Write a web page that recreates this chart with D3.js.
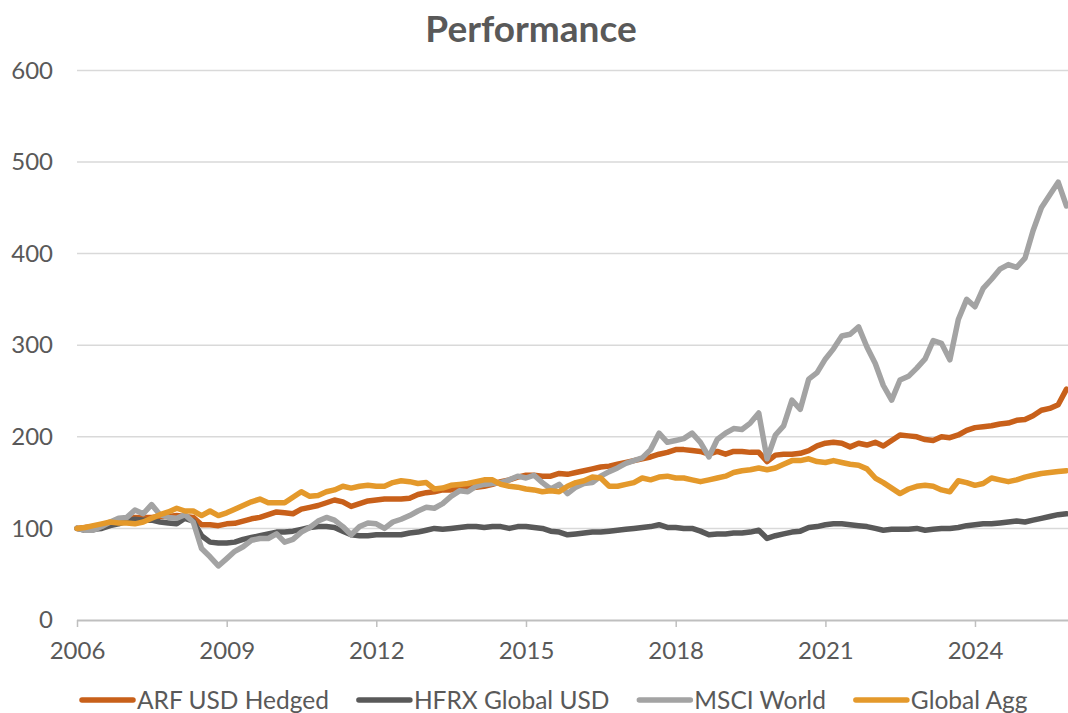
<!DOCTYPE html>
<html>
<head>
<meta charset="utf-8">
<script src="https://cdn.jsdelivr.net/npm/d3@7"></script>
<style>
  body { margin: 0; background: #ffffff; }
  svg { display: block; }
  text { font-family: Lato, "Open Sans", sans-serif; fill: #595959; }
</style>
</head>
<body>
<svg id="chart" width="1068" height="713"></svg>
<script>
// Growth of 100, bimonthly observations from Jan 2006 to Nov 2025
const seriesNames = ["ARF USD Hedged", "HFRX Global USD", "MSCI World", "Global Agg"];

const arfUsdHedged = [
  100, 101, 102, 104, 106, 108, 110, 112, 112, 112, 113, 113, 114, 113, 112, 104, 104, 103, 105, 105.5,
  108, 110.5, 112, 115, 118, 117, 116, 121, 123, 125, 128, 131, 129, 124, 127, 130, 131, 132, 132, 132,
  133, 137, 139, 140, 142, 142, 144, 144, 145, 146, 148, 151, 153, 156, 158, 158, 157, 157, 160, 159,
  161, 163, 165, 167, 168, 170, 172, 174, 176, 178, 181, 183, 186, 186, 185, 184, 181, 184, 181, 184,
  184, 183, 183, 173, 180, 181, 181, 182, 185, 190, 193, 194, 193, 189, 193, 191, 194, 190, 196, 202,
  201, 200, 197, 196, 200, 199, 202, 207, 210, 211, 212, 214, 215, 218, 219, 223, 229, 231, 235, 252
];

const hfrxGlobalUsd = [
  100, 98, 99, 100, 103, 105, 108, 110, 109, 109, 107, 106, 105, 111, 108, 92, 85, 84, 84, 85,
  88, 90, 92, 94, 96, 96, 97, 99, 101, 102, 102, 101, 97, 93, 92, 92, 93, 93, 93, 93,
  95, 96, 98, 100, 99, 100, 101, 102, 102, 101, 102, 102, 100, 102, 102, 101, 100, 97, 96, 93,
  94, 95, 96, 96, 97, 98, 99, 100, 101, 102, 104, 101, 101, 100, 100, 97, 93, 94, 94, 95,
  95, 96, 98, 89, 92, 94, 96, 97, 101, 102, 104, 105, 105, 104, 103, 102, 100, 98, 99, 99,
  99, 100, 98, 99, 100, 100, 101, 103, 104, 105, 105, 106, 107, 108, 107, 109, 111, 113, 115, 116
];

const msciWorld = [
  100, 98, 98, 102, 107, 111, 112, 120, 116, 126, 115, 112, 111, 115, 107, 78, 69, 59, 67, 75,
  80, 87, 89, 89, 94, 85, 88, 96, 101, 108, 112, 109, 102, 93, 102, 106, 105, 100, 107, 110,
  114, 119, 123, 122, 127, 135, 141, 140, 146, 148, 149, 150, 153, 157, 155, 158, 150, 143, 148, 138,
  145, 149, 150, 157, 162, 166, 171, 174, 177, 186, 204, 194, 196, 198, 204, 194, 178, 197, 204, 209,
  208, 215, 226, 176, 202, 212, 240, 230, 263, 270, 285, 296, 310, 312, 320, 298, 280, 256, 240, 262,
  266, 275, 285, 305, 302, 284, 328, 350, 342, 362, 372, 383, 388, 385, 395, 425, 450, 464, 478, 452
];

const globalAgg = [
  100, 101, 103, 105, 107, 106, 106, 105, 107, 111, 115, 118, 122, 119, 119, 114, 119, 114, 117, 121,
  125, 129, 132, 128, 128, 128, 134, 140, 135, 136, 140, 142, 146, 144, 146, 147, 146, 146, 150, 152,
  151, 149, 150, 143, 144, 147, 148, 149, 151, 153, 153, 148, 146, 145, 143, 142, 140, 141, 140, 146,
  150, 152, 156, 155, 146, 146, 148, 150, 155, 153, 156, 157, 155, 155, 153, 151, 153, 155, 157, 161,
  163, 164, 166, 164, 166, 170, 174, 174, 176, 173, 172, 174, 172, 170, 169, 165, 155, 150, 144, 138,
  143, 146, 147, 146, 142, 140, 152, 150, 147, 149, 155, 153, 151, 153, 156, 158, 160, 161, 162, 163
];

const yTickValues = [0, 100, 200, 300, 400, 500, 600];
const xTickYears = [2006, 2009, 2012, 2015, 2018, 2021, 2024];
const seriesColors = ["#C8601A", "#595959", "#A3A3A3", "#E4992B"];

// observation dates: every second month starting January 2006
const dates = d3.range(arfUsdHedged.length).map(i => new Date(2006, i * 2, 1));

const series = [arfUsdHedged, hfrxGlobalUsd, msciWorld, globalAgg].map((values, i) => ({
  name: seriesNames[i],
  color: seriesColors[i],
  points: values.map((v, j) => ({ date: dates[j], value: v }))
}));

const svg = d3.select("#chart");
const plot = { left: 77, right: 1066.5, top: 70.4, bottom: 620 };

const x = d3.scaleTime()
  .domain([new Date(2006, 0, 1), dates[dates.length - 1]])
  .range([plot.left, plot.right]);

const y = d3.scaleLinear()
  .domain([0, 600])
  .range([plot.bottom, plot.top]);

// title
svg.append("text")
  .attr("x", 531)
  .attr("y", 42)
  .attr("text-anchor", "middle")
  .style("font-size", "37px")
  .style("font-weight", "700")
  .text("Performance");

// horizontal gridlines
svg.append("g")
  .selectAll("line")
  .data(yTickValues.filter(v => v > 0))
  .join("line")
  .attr("x1", plot.left)
  .attr("x2", 1068)
  .attr("y1", d => y(d))
  .attr("y2", d => y(d))
  .attr("stroke", "#D9D9D9")
  .attr("stroke-width", 1.5);

// y axis labels
const yAxis = svg.append("g")
  .attr("transform", `translate(${plot.left},0)`)
  .call(d3.axisLeft(y).tickValues(yTickValues).tickSize(0).tickPadding(24));
yAxis.select(".domain").remove();
yAxis.selectAll("text")
  .style("font-size", "24px")
  .style("font-family", "Lato, sans-serif")
  .attr("fill", "#595959");

// x axis with tick marks
const xAxis = svg.append("g")
  .attr("transform", `translate(0,${plot.bottom})`)
  .call(d3.axisBottom(x)
    .tickValues(xTickYears.map(yr => new Date(yr, 0, 1)))
    .tickFormat(d3.timeFormat("%Y"))
    .tickSize(7)
    .tickSizeOuter(0)
    .tickPadding(15));
xAxis.select(".domain")
  .attr("d", `M${plot.left},0.5H1068`)
  .attr("stroke", "#BFBFBF")
  .attr("stroke-width", 2);
xAxis.selectAll(".tick line")
  .attr("stroke", "#BFBFBF")
  .attr("stroke-width", 1.5);
xAxis.selectAll("text")
  .style("font-size", "24px")
  .style("font-family", "Lato, sans-serif")
  .attr("fill", "#595959");

// series lines
const line = d3.line()
  .x(d => x(d.date))
  .y(d => y(d.value));

svg.append("g")
  .selectAll("path")
  .data(series)
  .join("path")
  .attr("d", d => line(d.points))
  .attr("fill", "none")
  .attr("stroke", d => d.color)
  .attr("stroke-width", 5.5)
  .attr("stroke-linejoin", "round")
  .attr("stroke-linecap", "round");

// legend
const legend = svg.append("g").attr("transform", "translate(80,700)");
let cursor = 0;
series.forEach(s => {
  const item = legend.append("g").attr("transform", `translate(${cursor},0)`);
  item.append("line")
    .attr("x1", 2).attr("x2", 53)
    .attr("y1", 0).attr("y2", 0)
    .attr("stroke", s.color)
    .attr("stroke-width", 5.5)
    .attr("stroke-linecap", "round");
  const label = item.append("text")
    .attr("x", 57)
    .attr("y", 8.5)
    .style("font-size", "24.5px")
    .text(s.name);
  cursor += 57 + label.node().getComputedTextLength() + 28;
});
</script>
</body>
</html>
